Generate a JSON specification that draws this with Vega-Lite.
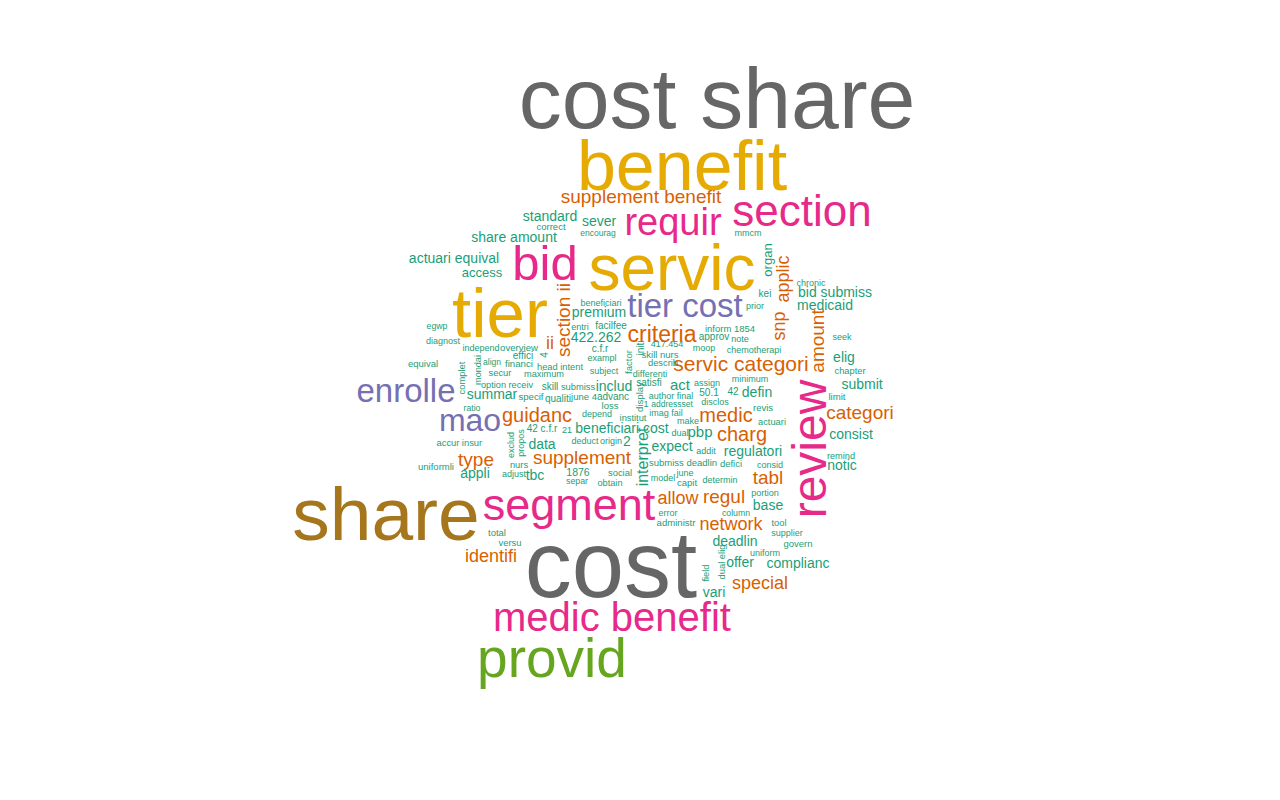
{
  "$schema": "https://vega.github.io/schema/vega-lite/v6.json",
  "width": 1280,
  "height": 800,
  "padding": 0,
  "autosize": {"type": "fit", "contains": "padding"},
  "background": "#ffffff",
  "config": {"view": {"stroke": null}},
  "data": {
    "values": [
      {"w": "cost share", "x": 717, "y": 102, "freq": 86, "v": 0},
      {"w": "cost", "x": 611, "y": 569, "freq": 94, "v": 0},
      {"w": "share", "x": 386, "y": 517, "freq": 75, "v": 0},
      {"w": "benefit", "x": 682, "y": 169, "freq": 70, "v": 0},
      {"w": "tier", "x": 500, "y": 316, "freq": 69, "v": 0},
      {"w": "servic", "x": 672, "y": 271, "freq": 64, "v": 0},
      {"w": "provid", "x": 552, "y": 660, "freq": 55, "v": 0},
      {"w": "bid", "x": 545, "y": 265, "freq": 49, "v": 0},
      {"w": "review", "x": 812, "y": 449, "freq": 48, "v": 1},
      {"w": "segment", "x": 569, "y": 506, "freq": 45, "v": 0},
      {"w": "section", "x": 802, "y": 213, "freq": 44, "v": 0},
      {"w": "medic benefit", "x": 612, "y": 619, "freq": 40, "v": 0},
      {"w": "requir", "x": 673, "y": 224, "freq": 38, "v": 0},
      {"w": "enrolle", "x": 406, "y": 392, "freq": 33, "v": 0},
      {"w": "tier cost", "x": 685, "y": 307, "freq": 33, "v": 0},
      {"w": "mao", "x": 470, "y": 421, "freq": 32, "v": 0},
      {"w": "criteria", "x": 662, "y": 335, "freq": 23, "v": 0},
      {"w": "servic categori", "x": 741, "y": 365, "freq": 21, "v": 0},
      {"w": "supplement benefit", "x": 641, "y": 197, "freq": 19, "v": 0},
      {"w": "section ii", "x": 564, "y": 320, "freq": 19, "v": 1},
      {"w": "medic", "x": 726, "y": 416, "freq": 20, "v": 0},
      {"w": "charg", "x": 742, "y": 435, "freq": 20, "v": 0},
      {"w": "guidanc", "x": 537, "y": 416, "freq": 20, "v": 0},
      {"w": "supplement", "x": 582, "y": 458, "freq": 19, "v": 0},
      {"w": "type", "x": 476, "y": 460, "freq": 19, "v": 0},
      {"w": "identifi", "x": 491, "y": 557, "freq": 18, "v": 0},
      {"w": "allow", "x": 678, "y": 499, "freq": 18, "v": 0},
      {"w": "regul", "x": 724, "y": 497, "freq": 19, "v": 0},
      {"w": "network", "x": 731, "y": 525, "freq": 18, "v": 0},
      {"w": "special", "x": 760, "y": 584, "freq": 18, "v": 0},
      {"w": "tabl", "x": 768, "y": 478, "freq": 19, "v": 0},
      {"w": "categori", "x": 860, "y": 413, "freq": 19, "v": 0},
      {"w": "snp", "x": 780, "y": 326, "freq": 18, "v": 1},
      {"w": "applic", "x": 784, "y": 279, "freq": 18, "v": 1},
      {"w": "amount", "x": 818, "y": 341, "freq": 19, "v": 1},
      {"w": "ii", "x": 550, "y": 344, "freq": 18, "v": 0},
      {"w": "interpret", "x": 643, "y": 457, "freq": 16, "v": 1},
      {"w": "includ", "x": 614, "y": 387, "freq": 14, "v": 0},
      {"w": "act", "x": 680, "y": 385, "freq": 15, "v": 0},
      {"w": "defin", "x": 757, "y": 393, "freq": 14, "v": 0},
      {"w": "pbp", "x": 700, "y": 432, "freq": 15, "v": 0},
      {"w": "beneficiari cost", "x": 622, "y": 429, "freq": 14, "v": 0},
      {"w": "expect", "x": 672, "y": 447, "freq": 14, "v": 0},
      {"w": "regulatori", "x": 753, "y": 452, "freq": 14, "v": 0},
      {"w": "data", "x": 542, "y": 445, "freq": 14, "v": 0},
      {"w": "appli", "x": 475, "y": 474, "freq": 14, "v": 0},
      {"w": "tbc", "x": 535, "y": 476, "freq": 14, "v": 0},
      {"w": "summar", "x": 492, "y": 395, "freq": 14, "v": 0},
      {"w": "premium", "x": 599, "y": 313, "freq": 14, "v": 0},
      {"w": "422.262", "x": 596, "y": 338, "freq": 14, "v": 0},
      {"w": "access", "x": 482, "y": 273, "freq": 13, "v": 0},
      {"w": "actuari equival", "x": 454, "y": 259, "freq": 14, "v": 0},
      {"w": "share amount", "x": 514, "y": 238, "freq": 14, "v": 0},
      {"w": "standard", "x": 550, "y": 217, "freq": 14, "v": 0},
      {"w": "sever", "x": 599, "y": 222, "freq": 14, "v": 0},
      {"w": "organ", "x": 768, "y": 260, "freq": 13, "v": 1},
      {"w": "bid submiss", "x": 835, "y": 293, "freq": 14, "v": 0},
      {"w": "medicaid", "x": 825, "y": 306, "freq": 14, "v": 0},
      {"w": "base", "x": 768, "y": 506, "freq": 14, "v": 0},
      {"w": "deadlin", "x": 735, "y": 542, "freq": 14, "v": 0},
      {"w": "offer", "x": 740, "y": 563, "freq": 14, "v": 0},
      {"w": "complianc", "x": 798, "y": 564, "freq": 14, "v": 0},
      {"w": "vari", "x": 714, "y": 593, "freq": 14, "v": 0},
      {"w": "elig", "x": 844, "y": 358, "freq": 14, "v": 0},
      {"w": "submit", "x": 862, "y": 385, "freq": 14, "v": 0},
      {"w": "consist", "x": 851, "y": 435, "freq": 14, "v": 0},
      {"w": "notic", "x": 842, "y": 466, "freq": 14, "v": 0},
      {"w": "2", "x": 627, "y": 442, "freq": 14, "v": 0},
      {"w": "correct", "x": 551, "y": 227, "freq": 9.5, "v": 0},
      {"w": "encourag", "x": 598, "y": 233, "freq": 8.5, "v": 0},
      {"w": "mmcm", "x": 748, "y": 233, "freq": 9, "v": 0},
      {"w": "kei", "x": 765, "y": 294, "freq": 10, "v": 0},
      {"w": "prior", "x": 755, "y": 306, "freq": 9, "v": 0},
      {"w": "chronic", "x": 811, "y": 283, "freq": 9, "v": 0},
      {"w": "inform 1854", "x": 730, "y": 329, "freq": 9.5, "v": 0},
      {"w": "approv", "x": 714, "y": 337, "freq": 10, "v": 0},
      {"w": "note", "x": 740, "y": 339, "freq": 9, "v": 0},
      {"w": "moop", "x": 704, "y": 348, "freq": 9, "v": 0},
      {"w": "chemotherapi", "x": 754, "y": 350, "freq": 9, "v": 0},
      {"w": "417.454", "x": 667, "y": 344, "freq": 9, "v": 0},
      {"w": "skill nurs", "x": 660, "y": 355, "freq": 9.5, "v": 0},
      {"w": "describ", "x": 663, "y": 363, "freq": 9.3, "v": 0},
      {"w": "differenti", "x": 650, "y": 374, "freq": 9, "v": 0},
      {"w": "minimum", "x": 750, "y": 379, "freq": 9, "v": 0},
      {"w": "satisfi", "x": 649, "y": 383, "freq": 10, "v": 0},
      {"w": "assign", "x": 707, "y": 383, "freq": 9, "v": 0},
      {"w": "50.1", "x": 709, "y": 393, "freq": 10, "v": 0},
      {"w": "42", "x": 733, "y": 392, "freq": 10, "v": 0},
      {"w": "author final", "x": 671, "y": 396, "freq": 9, "v": 0},
      {"w": "disclos", "x": 715, "y": 402, "freq": 9, "v": 0},
      {"w": "addressset", "x": 672, "y": 404, "freq": 8.5, "v": 0},
      {"w": "1", "x": 646, "y": 404, "freq": 9, "v": 0},
      {"w": "revis", "x": 763, "y": 408, "freq": 9.5, "v": 0},
      {"w": "actuari", "x": 772, "y": 422, "freq": 9.3, "v": 0},
      {"w": "imag fail", "x": 666, "y": 413, "freq": 9, "v": 0},
      {"w": "make", "x": 688, "y": 421, "freq": 9, "v": 0},
      {"w": "institut", "x": 633, "y": 418, "freq": 9.3, "v": 0},
      {"w": "loss", "x": 610, "y": 406, "freq": 9.5, "v": 0},
      {"w": "depend", "x": 597, "y": 414, "freq": 9, "v": 0},
      {"w": "june 4", "x": 584, "y": 397, "freq": 9.5, "v": 0},
      {"w": "advanc", "x": 613, "y": 397, "freq": 10, "v": 0},
      {"w": "qualiti", "x": 558, "y": 399, "freq": 10, "v": 0},
      {"w": "specif", "x": 531, "y": 397, "freq": 9.6, "v": 0},
      {"w": "submiss", "x": 578, "y": 387, "freq": 9.3, "v": 0},
      {"w": "skill", "x": 550, "y": 387, "freq": 10, "v": 0},
      {"w": "option receiv", "x": 507, "y": 385, "freq": 9.2, "v": 0},
      {"w": "complet", "x": 462, "y": 378, "freq": 9.4, "v": 1},
      {"w": "mondai", "x": 478, "y": 370, "freq": 9.1, "v": 1},
      {"w": "ratio", "x": 472, "y": 408, "freq": 8.7, "v": 0},
      {"w": "equival", "x": 423, "y": 364, "freq": 9.5, "v": 0},
      {"w": "diagnost", "x": 443, "y": 341, "freq": 9, "v": 0},
      {"w": "egwp", "x": 437, "y": 326, "freq": 8.8, "v": 0},
      {"w": "independ", "x": 481, "y": 348, "freq": 9, "v": 0},
      {"w": "overview", "x": 519, "y": 348, "freq": 9.6, "v": 0},
      {"w": "effici", "x": 523, "y": 356, "freq": 10, "v": 0},
      {"w": "align", "x": 492, "y": 362, "freq": 8.5, "v": 0},
      {"w": "financi", "x": 519, "y": 364, "freq": 9.7, "v": 0},
      {"w": "head intent", "x": 560, "y": 367, "freq": 9.3, "v": 0},
      {"w": "secur", "x": 500, "y": 373, "freq": 9.4, "v": 0},
      {"w": "maximum", "x": 544, "y": 374, "freq": 9.2, "v": 0},
      {"w": "c.f.r", "x": 600, "y": 349, "freq": 10, "v": 0},
      {"w": "exampl", "x": 602, "y": 358, "freq": 9, "v": 0},
      {"w": "subject", "x": 604, "y": 371, "freq": 9, "v": 0},
      {"w": "beneficiari", "x": 601, "y": 303, "freq": 9, "v": 0},
      {"w": "entri", "x": 580, "y": 327, "freq": 9, "v": 0},
      {"w": "facilfee", "x": 611, "y": 326, "freq": 10, "v": 0},
      {"w": "initi", "x": 641, "y": 348, "freq": 10, "v": 1},
      {"w": "factor", "x": 629, "y": 362, "freq": 9.5, "v": 1},
      {"w": "display", "x": 640, "y": 397, "freq": 9.6, "v": 1},
      {"w": "origin", "x": 611, "y": 441, "freq": 9, "v": 0},
      {"w": "deduct", "x": 585, "y": 441, "freq": 9, "v": 0},
      {"w": "21", "x": 567, "y": 430, "freq": 9, "v": 0},
      {"w": "42 c.f.r", "x": 542, "y": 429, "freq": 10, "v": 0},
      {"w": "exclud", "x": 511, "y": 445, "freq": 9, "v": 1},
      {"w": "propos", "x": 521, "y": 443, "freq": 9, "v": 1},
      {"w": "accur", "x": 448, "y": 443, "freq": 9.4, "v": 0},
      {"w": "insur", "x": 472, "y": 443, "freq": 9.4, "v": 0},
      {"w": "uniformli", "x": 436, "y": 467, "freq": 9.5, "v": 0},
      {"w": "nurs", "x": 519, "y": 465, "freq": 9.3, "v": 0},
      {"w": "adjust", "x": 514, "y": 474, "freq": 9, "v": 0},
      {"w": "1876", "x": 578, "y": 473, "freq": 10.5, "v": 0},
      {"w": "separ", "x": 577, "y": 481, "freq": 8.8, "v": 0},
      {"w": "social", "x": 620, "y": 473, "freq": 9.4, "v": 0},
      {"w": "obtain", "x": 610, "y": 483, "freq": 9.2, "v": 0},
      {"w": "submiss deadlin", "x": 683, "y": 463, "freq": 9.5, "v": 0},
      {"w": "addit", "x": 706, "y": 451, "freq": 9, "v": 0},
      {"w": "defici", "x": 731, "y": 464, "freq": 9.5, "v": 0},
      {"w": "consid", "x": 770, "y": 465, "freq": 9, "v": 0},
      {"w": "model", "x": 663, "y": 478, "freq": 9, "v": 0},
      {"w": "june", "x": 685, "y": 473, "freq": 9, "v": 0},
      {"w": "capit", "x": 687, "y": 483, "freq": 9.5, "v": 0},
      {"w": "determin", "x": 720, "y": 480, "freq": 9, "v": 0},
      {"w": "portion", "x": 765, "y": 493, "freq": 9, "v": 0},
      {"w": "error", "x": 668, "y": 513, "freq": 9, "v": 0},
      {"w": "column", "x": 736, "y": 513, "freq": 8.7, "v": 0},
      {"w": "administr", "x": 676, "y": 523, "freq": 9.6, "v": 0},
      {"w": "tool", "x": 779, "y": 523, "freq": 9.3, "v": 0},
      {"w": "supplier", "x": 787, "y": 533, "freq": 9, "v": 0},
      {"w": "govern", "x": 798, "y": 544, "freq": 9.5, "v": 0},
      {"w": "uniform", "x": 765, "y": 553, "freq": 9, "v": 0},
      {"w": "dual elig", "x": 722, "y": 562, "freq": 9.4, "v": 1},
      {"w": "field", "x": 706, "y": 573, "freq": 9.3, "v": 1},
      {"w": "total", "x": 497, "y": 533, "freq": 9.5, "v": 0},
      {"w": "versu", "x": 510, "y": 543, "freq": 9.4, "v": 0},
      {"w": "dual", "x": 680, "y": 433, "freq": 9, "v": 0},
      {"w": "chapter", "x": 850, "y": 371, "freq": 9.3, "v": 0},
      {"w": "seek", "x": 842, "y": 337, "freq": 9, "v": 0},
      {"w": "limit", "x": 837, "y": 397, "freq": 9.6, "v": 0},
      {"w": "remind", "x": 841, "y": 456, "freq": 9.2, "v": 0},
      {"w": "4", "x": 545, "y": 355, "freq": 10, "v": 1}
    ]
  },
  "encoding": {
    "x": {"field": "x", "type": "quantitative", "scale": {"domain": [0, 1280], "nice": false, "zero": false}, "axis": null},
    "y": {"field": "y", "type": "quantitative", "scale": {"domain": [0, 800], "nice": false, "zero": false, "reverse": true}, "axis": null},
    "text": {"field": "w", "type": "nominal"},
    "size": {"field": "freq", "type": "quantitative", "scale": {"type": "linear", "domain": [0, 100], "range": [0, 100]}, "legend": null},
    "color": {
      "field": "freq",
      "type": "quantitative",
      "scale": {
        "type": "threshold",
        "domain": [16.5, 28, 36, 53, 60, 72, 80],
        "range": ["#1B9E77", "#D95F02", "#7570B3", "#E7298A", "#66A61E", "#E6AB02", "#A6761D", "#666666"]
      },
      "legend": null
    }
  },
  "layer": [
    {
      "transform": [{"filter": "datum.v == 0"}],
      "mark": {"type": "text", "font": "Liberation Sans", "align": "center", "baseline": "middle"}
    },
    {
      "transform": [{"filter": "datum.v == 1"}],
      "mark": {"type": "text", "font": "Liberation Sans", "align": "center", "baseline": "middle", "angle": 270}
    }
  ]
}
